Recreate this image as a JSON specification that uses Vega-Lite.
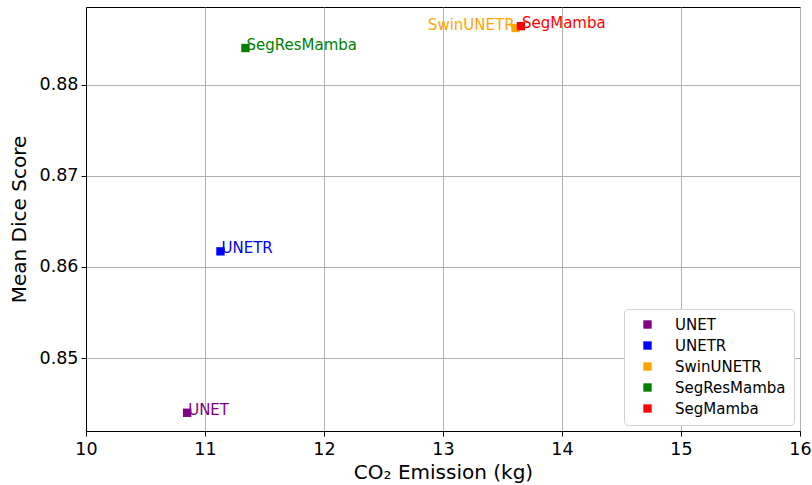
{
  "$schema": "https://vega.github.io/schema/vega-lite/v6.json",
  "autosize": "none",
  "width": 714,
  "height": 424,
  "padding": {"left": 86, "top": 7, "right": 12, "bottom": 54},
  "background": "white",
  "config": {
    "font": "DejaVu Sans",
    "view": {"stroke": "black", "strokeWidth": 1}
  },
  "data": {
    "values": [
      {"model": "UNET", "co2": 10.85, "dice": 0.8440, "align": "left"},
      {"model": "UNETR", "co2": 11.13, "dice": 0.8617, "align": "left"},
      {"model": "SwinUNETR", "co2": 13.61, "dice": 0.8862, "align": "right"},
      {"model": "SegResMamba", "co2": 11.34, "dice": 0.8840, "align": "left"},
      {"model": "SegMamba", "co2": 13.655, "dice": 0.8864, "align": "left"}
    ]
  },
  "encoding": {
    "x": {
      "field": "co2", "type": "quantitative",
      "scale": {"domain": [10, 16], "nice": false, "zero": false},
      "axis": {
        "title": "CO₂ Emission (kg)", "titleFontSize": 20, "titleFontWeight": "normal", "titleColor": "black", "titlePadding": 5,
        "labelFontSize": 17.5, "labelColor": "black", "labelPadding": 4, "labelFlush": false,
        "tickColor": "black", "tickSize": 5, "domainColor": "black",
        "gridColor": "#b0b0b0", "gridWidth": 1, "values": [10, 11, 12, 13, 14, 15, 16]
      }
    },
    "y": {
      "field": "dice", "type": "quantitative",
      "scale": {"domain": [0.842, 0.8885], "nice": false, "zero": false},
      "axis": {
        "title": "Mean Dice Score", "titleFontSize": 20, "titleFontWeight": "normal", "titleColor": "black", "titlePadding": 10,
        "labelFontSize": 17.5, "labelColor": "black", "labelPadding": 3, "format": ".2f", "labelFlush": false,
        "tickColor": "black", "tickSize": 5, "domainColor": "black",
        "gridColor": "#b0b0b0", "gridWidth": 1, "values": [0.85, 0.86, 0.87, 0.88]
      }
    },
    "color": {
      "field": "model", "type": "nominal",
      "scale": {
        "domain": ["UNET", "UNETR", "SwinUNETR", "SegResMamba", "SegMamba"],
        "range": ["purple", "blue", "orange", "green", "red"]
      }
    }
  },
  "layer": [
    {
      "mark": {"type": "point", "shape": "square", "filled": true, "size": 70, "opacity": 1},
      "encoding": {
        "color": {
          "field": "model", "type": "nominal",
          "legend": {
            "title": null, "orient": "none", "legendX": 538, "legendY": 302,
            "labelFontSize": 15, "labelColor": "black", "symbolSize": 70, "symbolType": "square",
            "symbolStrokeWidth": 0, "rowPadding": 5, "labelOffset": 20,
            "padding": 8, "strokeColor": "#d0d0d0", "fillColor": "white", "cornerRadius": 4,
            "offset": 0, "symbolOffset": 8
          }
        }
      }
    },
    {
      "transform": [{"filter": "datum.align === 'left'"}],
      "mark": {"type": "text", "align": "left", "baseline": "alphabetic", "dx": 1, "dy": 2, "fontSize": 15},
      "encoding": {
        "text": {"field": "model"},
        "color": {"field": "model", "type": "nominal", "legend": null}
      }
    },
    {
      "transform": [{"filter": "datum.align === 'right'"}],
      "mark": {"type": "text", "align": "right", "baseline": "alphabetic", "dx": -1, "dy": 2, "fontSize": 15},
      "encoding": {
        "text": {"field": "model"},
        "color": {"field": "model", "type": "nominal", "legend": null}
      }
    }
  ]
}
